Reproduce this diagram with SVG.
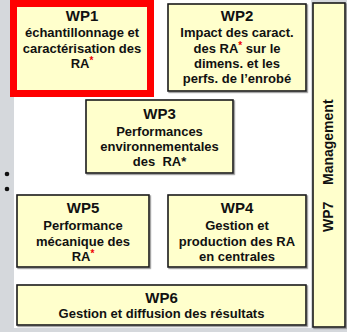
<svg xmlns="http://www.w3.org/2000/svg" width="347" height="332" viewBox="0 0 347 332">
<style>
.box{fill:#ffffcc;stroke:#1a1a1a;stroke-width:1.6}
.t{font-family:"Liberation Sans",Arial,sans-serif;font-weight:bold;fill:#111;text-anchor:middle}
.h{font-size:15px}
.b{font-size:13px}
.ast{fill:#ee0000;font-size:10px}
</style>
<defs>
<filter id="sh" x="-10%" y="-10%" width="130%" height="130%">
<feDropShadow dx="1.2" dy="1.2" stdDeviation="0.6" flood-color="#777" flood-opacity="0.8"/>
</filter>
</defs>
<rect x="0" y="0" width="347" height="332" fill="#d5d8dc"/>
<rect x="14" y="0" width="297" height="328" fill="#ffffff"/>
<circle cx="7" cy="174" r="2.3" fill="#111"/>
<circle cx="7" cy="189" r="2.3" fill="#111"/>
<g id="connectors"></g>
<g id="wp1">
<rect x="13.5" y="3.5" width="137" height="90" fill="#ffffcc" stroke="#ff0000" stroke-width="7"/>
<text class="t h" x="82" y="21">WP1</text>
<text class="t b" x="82" y="37">échantillonnage et</text>
<text class="t b" x="82" y="53">caractérisation des</text>
<text class="t b" x="82" y="68">RA<tspan class="ast" dy="-4">*</tspan></text>
</g>
<g id="wp2">
<rect class="box" x="168" y="4" width="138" height="87" filter="url(#sh)"/>
<text class="t h" x="237" y="21">WP2</text>
<text class="t b" x="237" y="37">Impact des caract.</text>
<text class="t b" x="237" y="53">des RA<tspan class="ast" dy="-4">*</tspan><tspan dy="4"> sur le</tspan></text>
<text class="t b" x="237" y="68">dimens. et les</text>
<text class="t b" x="237" y="83">perfs. de l’enrobé</text>
</g>
<g id="wp3">
<rect class="box" x="86" y="100" width="147" height="73" filter="url(#sh)"/>
<text class="t h" x="159.5" y="119">WP3</text>
<text class="t b" x="159.5" y="136">Performances</text>
<text class="t b" x="159.5" y="151">environnementales</text>
<text class="t b" x="159.5" y="166" xml:space="preserve">des  RA*</text>
</g>
<g id="wp5">
<rect class="box" x="17" y="195" width="132" height="72" filter="url(#sh)"/>
<text class="t h" x="83" y="213">WP5</text>
<text class="t b" x="83" y="230">Performance</text>
<text class="t b" x="83" y="246">mécanique des</text>
<text class="t b" x="83" y="261">RA<tspan class="ast" dy="-4">*</tspan></text>
</g>
<g id="wp4">
<rect class="box" x="168" y="195" width="138" height="72" filter="url(#sh)"/>
<text class="t h" x="237" y="213">WP4</text>
<text class="t b" x="237" y="230">Gestion et</text>
<text class="t b" x="237" y="246">production des RA</text>
<text class="t b" x="237" y="261">en centrales</text>
</g>
<g id="wp6">
<rect class="box" x="17" y="285" width="289" height="40" filter="url(#sh)"/>
<text class="t h" x="161.5" y="303">WP6</text>
<text class="t b" x="161.5" y="318">Gestion et diffusion des résultats</text>
</g>
<g id="wp7">
<rect class="box" x="313" y="3" width="32" height="324" filter="url(#sh)"/>
<text class="t" style="font-size:14px;text-anchor:start" transform="translate(333,232) rotate(-90)">WP7</text>
<text class="t" style="font-size:14px;text-anchor:start" transform="translate(333,185) rotate(-90)">Management</text>
</g>
</svg>
